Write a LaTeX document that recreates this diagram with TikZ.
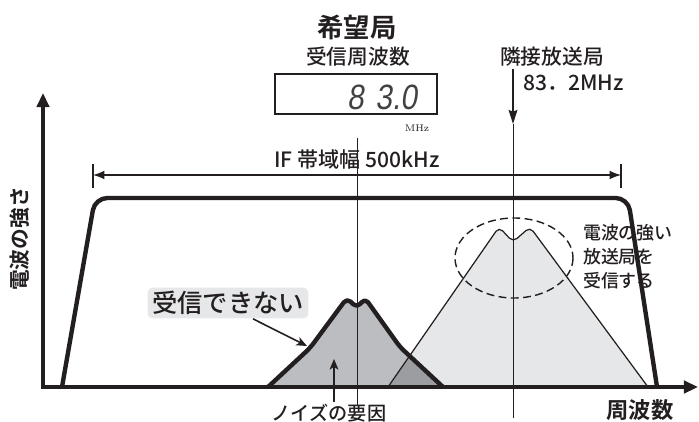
\documentclass[tikz,border=0pt]{standalone}
\usepackage{fontspec}
\usetikzlibrary{arrows.meta,positioning}
\newfontfamily\jp[BoldFont={Noto Sans CJK JP Bold}]{Noto Sans CJK JP Medium}
\newfontfamily\lcd[FakeSlant=0.15,FakeStretch=0.85]{Liberation Sans}
\newcommand{\sz}[2]{\fontsize{#1}{#2}\selectfont}
\definecolor{lite}{HTML}{E6E7E8}
\definecolor{mid}{HTML}{BCBDC0}
\definecolor{deep}{HTML}{9C9DA0}
\definecolor{ink}{HTML}{231F20}

\begin{document}
\begin{tikzpicture}[x=0.02cm,y=-0.02cm,>=Latex, every node/.style={font=\jp,text=ink,inner sep=1pt},
 thk/.style={line width=2.5pt,draw=ink},
 fine/.style={line width=0.5pt,draw=ink},
 ptr/.style={line width=0.9pt,draw=ink,-{Stealth[length=6pt,width=5pt,inset=1.5pt]}}]
\useasboundingbox (0,0) rectangle (699,422);
\coordinate (o) at (43,387);\coordinate (ytop) at (43,93);\coordinate (xend) at (698,387);
\coordinate (ifl) at (93,175);\coordinate (ifr) at (621,175);
\coordinate (ngtip) at (307,346);\coordinate (noisetip) at (334,359);
\coordinate (adjtip) at (513,124);\coordinate (adjend) at (513,418);
\coordinate (rxtop) at (357,138);\coordinate (rxend) at (357,405);
\draw[thk,rounded corners=7pt] (62,387) -- (95,198) -- (628,198) -- (657,387);
\fill[lite,rounded corners=3pt] (388,387) -- (499,227) -- (513,242) -- (530,227) -- (648,387) -- cycle;
\fill[mid,rounded corners=3pt] (268,387) -- (310,348) -- (347,298) -- (357,308) -- (365,298) -- (400,347) -- (443,387) -- cycle;
\begin{scope}
\clip (388,387) -- (499,227) -- (513,242) -- (530,227) -- (648,387) -- cycle;
\fill[deep,rounded corners=3pt] (268,387) -- (310,348) -- (347,298) -- (357,308) -- (365,298) -- (400,347) -- (443,387) -- cycle;
\end{scope}
\draw[line width=0.7pt,draw=ink,rounded corners=3pt] (388,387) -- (499,227) -- (513,242) -- (530,227) -- (648,387);
\draw[thk,line join=round,rounded corners=3pt] (268,387) -- (310,348) -- (347,298) -- (357,308) -- (365,298) -- (400,347) -- (443,387);
\draw[thk,line width=2.3pt,{Triangle[length=8pt,width=7pt]}-{Triangle[length=8pt,width=7pt]}] (ytop) -- (o) -- (xend);
\draw[fine] (rxtop) -- (rxend);\draw[fine] (adjtip) -- (adjend);
\draw[line width=0.8pt,draw=ink,dash pattern=on 4.5pt off 2.5pt] (514,258) ellipse [x radius=59, y radius=40];

\draw[line width=0.7pt,draw=ink,{Latex[length=6.5pt,width=5pt]}-{Latex[length=6.5pt,width=5pt]}] (ifl) -- (ifr);
\draw[line width=0.8pt,draw=ink] (ifl) ++(0,-11) -- ++(0,24);\draw[line width=0.8pt,draw=ink] (ifr) ++(0,-11) -- ++(0,24);
\node[font=\jp\sz{12}{14}] (ifw) at (357,159) {IF 帯域幅 500kHz};

\node[font=\jp\bfseries\sz{15}{18}] (want) at (357,27) {希望局};
\node[font=\jp\sz{11.8}{14}] (freq) at (358,57) {受信周波数};
\node[draw=ink,line width=0.6pt,minimum width=3.24cm,minimum height=0.8cm] (disp) at (356,94) {};
\node[font=\lcd\sz{20}{20},text=ink!85] (digits) at (382,97) {8\,\,3.0};
\node[font=\rmfamily\sz{5.5}{6}] (mhz) at (417,128) {MHz};
\node[font=\jp\sz{11.8}{14}] (adj) at (552,57) {隣接放送局};
\node[font=\jp\sz{12}{14},anchor=west] (adjf) at (521,83) {83．2MHz};
\draw[line width=1pt,draw=ink,-{Stealth[length=8pt,width=5pt,inset=1pt]}] (adj.south -| adjtip) -- (adjtip);

\node[font=\jp\sz{14.4}{16},fill=lite,rounded corners=3pt,minimum width=3.22cm,minimum height=0.62cm] (ng) at (228,303) {受信できない};
\draw[ptr] ([xshift=0.5cm]ng.south) -- (ngtip);
\node[font=\jp\sz{10.9}{12}] (noise) at (329,413) {ノイズの要因};
\draw[ptr] (noise.north -| noisetip) -- (noisetip);
\node[font=\jp\sz{10.2}{13.6},align=left,anchor=west] (strong) at (581,257) {電波の強い\\放送局を\\受信する};
\node[font=\jp\bfseries\sz{11.8}{14},rotate=90] (ylab) at (20,239) {電波の強さ};
\node[font=\jp\bfseries\sz{12.7}{14}] (xlab) at (640,410) {周波数};
\end{tikzpicture}
\end{document}
